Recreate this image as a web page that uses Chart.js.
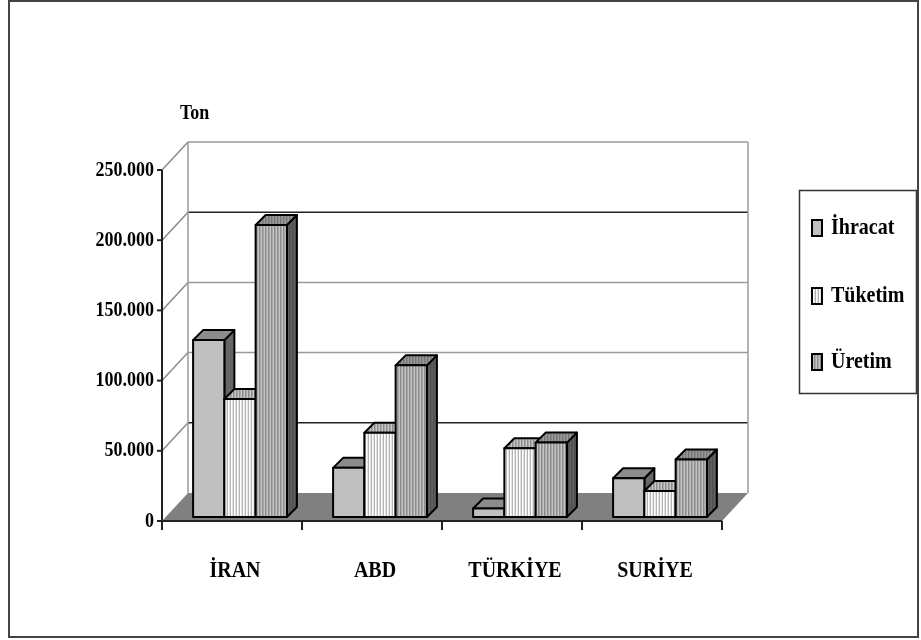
<!DOCTYPE html>
<html>
<head>
<meta charset="utf-8">
<script src="https://cdn.jsdelivr.net/npm/chart.js@4/dist/chart.umd.min.js"></script>
<style>
  html, body { margin: 0; padding: 0; background: #fff; }
  #wrap { width: 921px; height: 640px; }
</style>
</head>
<body>
<div id="wrap"><canvas id="c" width="921" height="640"></canvas></div>
<script>
// Production figures per country (ton)
const categories = ['İRAN', 'ABD', 'TÜRKİYE', 'SURİYE'];
const seriesNames = ['İhracat', 'Tüketim', 'Üretim'];
const ihracat = [126000, 35000, 6000, 27600];
const tuketim = [84000, 60000, 49000, 18500];
const uretim  = [208000, 108000, 53000, 41000];
const yTicks = [0, 50000, 100000, 150000, 200000, 250000];
const yTickLabels = ['0', '50.000', '100.000', '150.000', '200.000', '250.000'];
const axisTitle = 'Ton';

// 3D projection settings
const WALL = { x: 26, y: -28 };      // depth of the chart box
const BAR_SHIFT = { x: 8, y: -4 };   // bars stand slightly behind the front edge
const BAR_DEPTH = { x: 10, y: -10 }; // thickness of each column
const TEXT_STRETCH = 1.2;
const FONT = "'Liberation Serif', 'Times New Roman', serif";
const gridTones = [null, '#222', '#9a9a9a', '#9a9a9a', '#222', '#9a9a9a'];

function stripePattern(ctx, colors) {
  const c = document.createElement('canvas');
  c.width = colors.length; c.height = 4;
  const g = c.getContext('2d');
  colors.forEach((col, i) => { g.fillStyle = col; g.fillRect(i, 0, 1, 4); });
  return ctx.createPattern(c, 'repeat');
}

let styles = null;
function buildStyles(ctx) {
  styles = [
    { front: '#c0c0c0', top: '#8c8c8c', side: '#666666' },
    { front: stripePattern(ctx, ['#ffffff', '#e4e4e4', '#b4b4b4']),
      top: stripePattern(ctx, ['#a8a8a8', '#c8c8c8', '#8c8c8c']),
      side: stripePattern(ctx, ['#707070', '#808080', '#606060']) },
    { front: stripePattern(ctx, ['#c4c4c4', '#8c8c8c', '#a8a8a8']),
      top: stripePattern(ctx, ['#9a9a9a', '#747474', '#8a8a8a']),
      side: stripePattern(ctx, ['#606060', '#505050', '#585858']) }
  ];
}

function line(ctx, x1, y1, x2, y2, color, w) {
  ctx.beginPath();
  ctx.moveTo(x1, y1); ctx.lineTo(x2, y2);
  ctx.strokeStyle = color; ctx.lineWidth = w;
  ctx.stroke();
}

function poly(ctx, pts, fill) {
  ctx.beginPath();
  ctx.moveTo(pts[0][0], pts[0][1]);
  for (let i = 1; i < pts.length; i++) ctx.lineTo(pts[i][0], pts[i][1]);
  ctx.closePath();
  if (fill) { ctx.fillStyle = fill; ctx.fill(); }
  ctx.strokeStyle = '#000'; ctx.lineWidth = 2; ctx.lineJoin = 'round';
  ctx.stroke();
}

function text(ctx, str, x, y, size, align) {
  ctx.save();
  ctx.translate(x, y);
  ctx.scale(1, TEXT_STRETCH);
  ctx.font = 'bold ' + size + 'px ' + FONT;
  ctx.fillStyle = '#000';
  ctx.textAlign = align;
  ctx.textBaseline = 'middle';
  ctx.fillText(str, 0, 0);
  ctx.restore();
}

const scene = {
  id: 'scene3d',
  beforeDraw(chart) {
    const ctx = chart.ctx;
    ctx.save();
    ctx.fillStyle = '#fff';
    ctx.fillRect(0, 0, chart.width, chart.height);
    // outer frame
    ctx.strokeStyle = '#444'; ctx.lineWidth = 2;
    ctx.strokeRect(9, 1, 909, 636);
    ctx.restore();
  },
  beforeDatasetsDraw(chart) {
    const ctx = chart.ctx;
    const xs = chart.scales.x, ys = chart.scales.y;
    const x0 = chart.chartArea.left, x1 = chart.chartArea.right;
    const y0 = ys.getPixelForValue(0);
    const yTop = ys.getPixelForValue(yTicks[yTicks.length - 1]);
    ctx.save();
    // back wall grid lines and side wall diagonals
    yTicks.forEach((v, i) => {
      if (i === 0) return;
      const y = ys.getPixelForValue(v);
      line(ctx, x0, y, x0 + WALL.x, y + WALL.y, '#8a8a8a', 1.5);
      line(ctx, x0 + WALL.x, y + WALL.y, x1 + WALL.x, y + WALL.y, gridTones[i], 1.5);
    });
    // back wall side edges
    line(ctx, x0 + WALL.x, yTop + WALL.y, x0 + WALL.x, y0 + WALL.y, '#9a9a9a', 1.5);
    line(ctx, x1 + WALL.x, yTop + WALL.y, x1 + WALL.x, y0 + WALL.y, '#9a9a9a', 1.5);
    // floor
    ctx.beginPath();
    ctx.moveTo(x0, y0);
    ctx.lineTo(x0 + WALL.x, y0 + WALL.y);
    ctx.lineTo(x1 + WALL.x, y0 + WALL.y);
    ctx.lineTo(x1, y0);
    ctx.closePath();
    ctx.fillStyle = '#808080';
    ctx.fill();
    // value axis with tick marks
    line(ctx, x0, yTop, x0, y0 + 6, '#222', 2);
    yTicks.forEach(v => {
      const y = ys.getPixelForValue(v);
      line(ctx, x0 - 5, y, x0, y, '#222', 2);
    });
    // category axis with tick marks between groups
    line(ctx, x0, y0, x1, y0, '#222', 2);
    const w = (x1 - x0) / categories.length;
    for (let j = 0; j <= categories.length; j++) {
      const x = x0 + j * w;
      line(ctx, x, y0, x, y0 + 9, '#222', 2);
    }
    ctx.restore();
  },
  afterDatasetsDraw(chart) {
    const ctx = chart.ctx;
    if (!styles) buildStyles(ctx);
    const metas = seriesNames.map((_, i) => chart.getDatasetMeta(i));
    ctx.save();
    for (let j = 0; j < categories.length; j++) {
      metas.forEach((meta, i) => {
        const el = meta.data[j];
        const l = el.x - el.width / 2 + BAR_SHIFT.x;
        const r = el.x + el.width / 2 + BAR_SHIFT.x;
        const t = el.y + BAR_SHIFT.y;
        const b = el.base + BAR_SHIFT.y;
        const st = styles[i];
        poly(ctx, [[r, t], [r + BAR_DEPTH.x, t + BAR_DEPTH.y], [r + BAR_DEPTH.x, b + BAR_DEPTH.y], [r, b]], st.side);
        poly(ctx, [[l, t], [l + BAR_DEPTH.x, t + BAR_DEPTH.y], [r + BAR_DEPTH.x, t + BAR_DEPTH.y], [r, t]], st.top);
        poly(ctx, [[l, t], [r, t], [r, b], [l, b]], st.front);
      });
    }
    ctx.restore();
  },
  afterDraw(chart) {
    const ctx = chart.ctx;
    if (!styles) buildStyles(ctx);
    const xs = chart.scales.x, ys = chart.scales.y;
    const x0 = chart.chartArea.left;
    // value labels
    yTicks.forEach((v, i) => text(ctx, yTickLabels[i], x0 - 8, ys.getPixelForValue(v), 18, 'right'));
    // unit title
    text(ctx, axisTitle, x0 + 18, 113, 18, 'left');
    // category labels
    categories.forEach((c, j) => text(ctx, c, xs.getPixelForValue(j) + 3, 571, 20, 'center'));
    // legend
    ctx.save();
    ctx.strokeStyle = '#333'; ctx.lineWidth = 1.5;
    ctx.strokeRect(799.5, 190.5, 117, 203);
    const rows = [228, 296, 362];
    seriesNames.forEach((name, i) => {
      const y = rows[i];
      ctx.fillStyle = styles[i].front;
      ctx.fillRect(812, y - 8, 10, 16);
      ctx.strokeStyle = '#000'; ctx.lineWidth = 2;
      ctx.strokeRect(812, y - 8, 10, 16);
      text(ctx, name, 831, y, 20, 'left');
    });
    ctx.restore();
  }
};

new Chart(document.getElementById('c'), {
  type: 'bar',
  data: {
    labels: categories,
    datasets: [
      { label: seriesNames[0], data: ihracat },
      { label: seriesNames[1], data: tuketim },
      { label: seriesNames[2], data: uretim }
    ].map(d => Object.assign(d, {
      backgroundColor: 'rgba(0,0,0,0)',
      borderWidth: 0,
      categoryPercentage: 0.67,
      barPercentage: 1.0
    }))
  },
  options: {
    responsive: false,
    animation: false,
    devicePixelRatio: 1,
    events: [],
    layout: { padding: { left: 162, right: 199, top: 170, bottom: 119 } },
    plugins: { legend: { display: false }, tooltip: { enabled: false } },
    scales: {
      x: { display: false },
      y: { display: false, min: yTicks[0], max: yTicks[yTicks.length - 1], ticks: { stepSize: 50000 } }
    }
  },
  plugins: [scene]
});
</script>
</body>
</html>
